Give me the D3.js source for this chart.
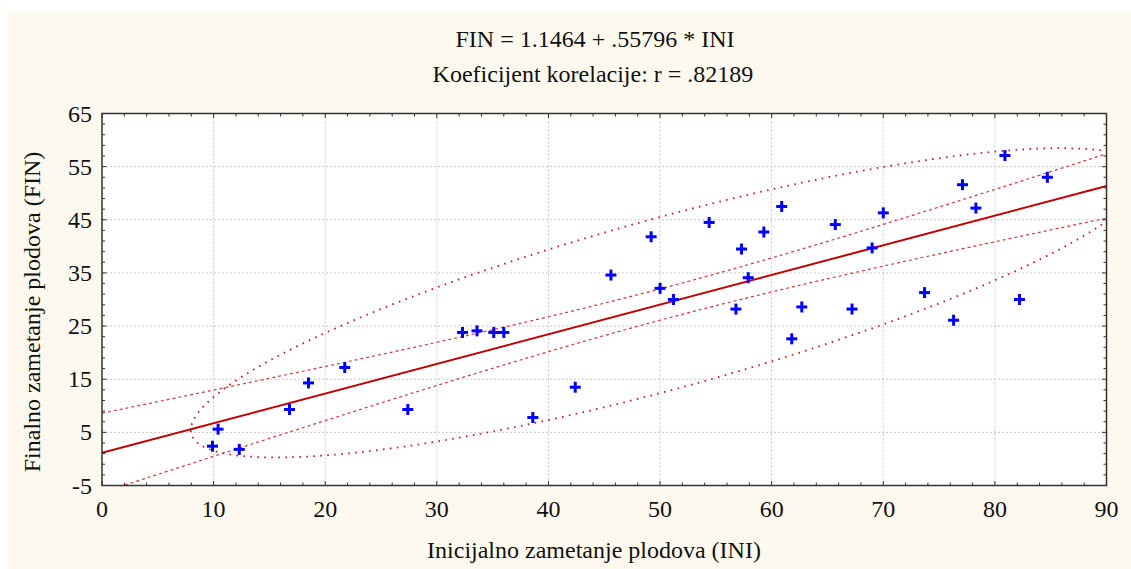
<!DOCTYPE html>
<html>
<head>
<meta charset="utf-8">
<script src="https://cdn.jsdelivr.net/npm/d3@7"></script>
<style>
  html, body { margin: 0; padding: 0; background: #fff; }
  svg { display: block; }
  text { font-family: "Liberation Serif", "Times New Roman", serif; fill: #111; }
</style>
</head>
<body>
<svg id="chart"></svg>
<script>
// data
var ini = [9.9, 10.4, 12.3, 16.8, 18.5, 21.75, 27.4, 38.6, 42.4,
           32.3, 33.6, 35.1, 36.0, 45.6, 49.2, 50.0, 51.2, 54.4,
           57.3, 59.3, 60.9, 57.9, 56.8, 62.7, 61.8, 65.7, 67.2,
           69.0, 70.0, 73.7, 76.3, 77.1, 78.3, 80.9, 82.2, 84.7];
var fin = [2.4, 5.6, 1.8, 9.3, 14.3, 17.2, 9.3, 7.8, 13.5,
           23.8, 24.1, 23.8, 23.8, 34.6, 41.8, 32.1, 30.0, 44.5,
           39.5, 42.7, 47.5, 34.1, 28.2, 28.6, 22.6, 44.1, 28.2,
           39.7, 46.3, 31.3, 26.1, 51.6, 47.2, 57.1, 30.0, 53.0];
var coef = [1.1464, 0.55796];          // intercept, slope (from title)
var xTicks = [0, 10, 20, 30, 40, 50, 60, 70, 80, 90];
var yTicks = [-5, 5, 15, 25, 35, 45, 55, 65];
var titleLines = ["FIN = 1.1464 + .55796 * INI", "Koeficijent korelacije: r = .82189"];
var xLabel = "Inicijalno zametanje plodova (INI)";
var yLabel = "Finalno zametanje plodova (FIN)";
var tCrit = 2.032;   // t(34, .975)
var ellK = 1.96;

var W = 1131, H = 569;
var svg = d3.select("#chart").attr("width", W).attr("height", H);

// cream panel
svg.append("rect").attr("x", 8).attr("y", 12).attr("width", W - 8).attr("height", H - 12)
   .attr("fill", "#fef9ee");

var x = d3.scaleLinear().domain([0, 90]).range([102, 1106.5]);
var y = d3.scaleLinear().domain([-5, 65]).range([485.5, 113.5]);

svg.append("rect").attr("x", x(0)).attr("y", y(65))
   .attr("width", x(90) - x(0)).attr("height", y(-5) - y(65))
   .attr("fill", "#fff");

svg.append("clipPath").attr("id", "clip").append("rect")
   .attr("x", x(0)).attr("y", y(65))
   .attr("width", x(90) - x(0)).attr("height", y(-5) - y(65));

// grid
var grid = svg.append("g");
grid.selectAll(".gx").data(xTicks.slice(1, -1)).join("line")
    .attr("x1", d => x(d)).attr("x2", d => x(d)).attr("y1", y(65)).attr("y2", y(-5))
    .attr("stroke", "#c8c8c8").attr("stroke-dasharray", "2,2").attr("stroke-width", 1);
grid.selectAll(".gy").data(yTicks.slice(1, -1)).join("line")
    .attr("x1", x(0)).attr("x2", x(90)).attr("y1", d => y(d)).attr("y2", d => y(d))
    .attr("stroke", "#c8c8c8").attr("stroke-dasharray", "2,2").attr("stroke-width", 1);

// stats
var n = ini.length;
var mx = d3.mean(ini), my = d3.mean(fin);
var sxx = d3.sum(ini, v => (v - mx) * (v - mx));
var syy = d3.sum(fin, v => (v - my) * (v - my));
var sxy = d3.sum(ini, (v, i) => (v - mx) * (fin[i] - my));
var sse = d3.sum(ini, (v, i) => Math.pow(fin[i] - (coef[0] + coef[1] * v), 2));
var se = Math.sqrt(sse / (n - 2));
var pred = v => coef[0] + coef[1] * v;
var xs = d3.range(0, 90.001, 0.5);

var plot = svg.append("g").attr("clip-path", "url(#clip)");
var line = d3.line().x(d => x(d[0])).y(d => y(d[1]));

// confidence bands
[-1, 1].forEach(function(s) {
  plot.append("path")
      .datum(xs.map(v => [v, pred(v) + s * tCrit * se * Math.sqrt(1 / n + (v - mx) * (v - mx) / sxx)]))
      .attr("d", line).attr("fill", "none")
      .attr("stroke", "#d03a3a").attr("stroke-width", 1.2).attr("stroke-dasharray", "3,3");
});

// ellipse
var sx = Math.sqrt(sxx / n), sy = Math.sqrt(syy / n), r = sxy / Math.sqrt(sxx * syy);
var ts = d3.range(0, 2 * Math.PI + 0.001, Math.PI / 180);
plot.append("path")
    .datum(ts.map(t => [mx + ellK * sx * Math.cos(t),
                        my + ellK * sy * (r * Math.cos(t) + Math.sqrt(1 - r * r) * Math.sin(t))]))
    .attr("d", line).attr("fill", "none")
    .attr("stroke", "#c81e1e").attr("stroke-width", 1.8).attr("stroke-dasharray", "1.6,5.4");

// regression line
plot.append("path").datum([[0, pred(0)], [90, pred(90)]])
    .attr("d", line).attr("fill", "none")
    .attr("stroke", "#c00000").attr("stroke-width", 2);

// points
var pts = svg.append("g").attr("stroke", "#0000ff").attr("stroke-width", 3);
ini.forEach(function(v, i) {
  var cx = x(v), cy = y(fin[i]);
  pts.append("line").attr("x1", cx - 5.5).attr("x2", cx + 5.5).attr("y1", cy).attr("y2", cy);
  pts.append("line").attr("x1", cx).attr("x2", cx).attr("y1", cy - 5.5).attr("y2", cy + 5.5);
});

// frame + inward ticks
var minorX = d3.range(0, 90.001, 2), minorY = d3.range(-5, 65.001, 2);
var tk = svg.append("g").attr("stroke", "#333").attr("stroke-width", 1);
minorX.forEach(function(v) {
  var L = (v % 10 === 0) ? 4.5 : 3;
  tk.append("line").attr("x1", x(v)).attr("x2", x(v)).attr("y1", y(-5)).attr("y2", y(-5) - L);
  tk.append("line").attr("x1", x(v)).attr("x2", x(v)).attr("y1", y(65)).attr("y2", y(65) + L);
});
minorY.forEach(function(v) {
  var L = ((v + 5) % 10 === 0) ? 4.5 : 3;
  tk.append("line").attr("x1", x(0)).attr("x2", x(0) + L).attr("y1", y(v)).attr("y2", y(v));
  tk.append("line").attr("x1", x(90)).attr("x2", x(90) - L).attr("y1", y(v)).attr("y2", y(v));
});
svg.append("rect").attr("x", x(0)).attr("y", y(65))
   .attr("width", x(90) - x(0)).attr("height", y(-5) - y(65))
   .attr("fill", "none").attr("stroke", "#333").attr("stroke-width", 1.5);

// tick labels
svg.append("g").selectAll("text").data(xTicks).join("text")
   .attr("x", d => x(d)).attr("y", 517).attr("text-anchor", "middle")
   .attr("font-size", 24).text(d => d);
svg.append("g").selectAll("text").data(yTicks).join("text")
   .attr("x", 92).attr("y", d => y(d) + 8).attr("text-anchor", "end")
   .attr("font-size", 24).text(d => d);

// titles
svg.append("text").attr("x", 595).attr("y", 47).attr("text-anchor", "middle")
   .attr("font-size", 24).text(titleLines[0]);
svg.append("text").attr("x", 593).attr("y", 82).attr("text-anchor", "middle")
   .attr("font-size", 24).text(titleLines[1]);
svg.append("text").attr("x", 594).attr("y", 558).attr("text-anchor", "middle")
   .attr("font-size", 24).text(xLabel);
svg.append("text").attr("transform", "translate(40,312) rotate(-90)").attr("text-anchor", "middle")
   .attr("font-size", 24).text(yLabel);
</script>
</body>
</html>
